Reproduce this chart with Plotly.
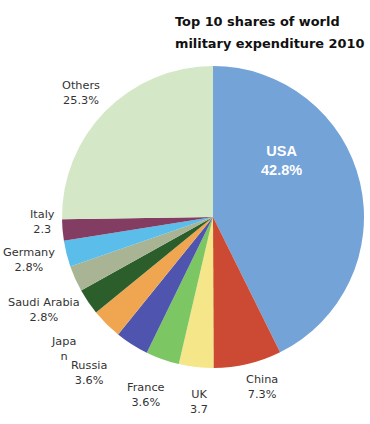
import plotly.graph_objects as go

countries = ["USA", "China", "UK", "France", "Russia", "Japan",
             "Saudi Arabia", "India", "Germany", "Italy", "Others"]
shares = [42.8, 7.3, 3.7, 3.6, 3.6, 3.3, 2.8, 2.8, 2.8, 2.3, 25.3]
colors = ["#74A3D8", "#CC4A33", "#F6E68A", "#7CC664", "#4F55AE", "#F0A651",
          "#2C5E2C", "#A9B494", "#5ABDEA", "#843D62", "#D4E8C8"]
# label text as printed in the reference (some values truncated / missing)
label_texts = ["USA<br>42.8%", "China<br>7.3%", "UK<br>3.7", "France<br>3.6%",
               "Russia<br>3.6%", "Japa<br>n", "Saudi Arabia<br>2.8%", "",
               "Germany<br>2.8%", "Italy<br>2.3", "Others<br>25.3%"]
title_lines = ["Top 10 shares of world", "military expenditure 2010"]

# label anchor positions (pixels in the 370x424 screenshot)
label_pos = [(281, 160), (262, 387), (199, 402), (146, 395), (89, 373),
             (63, 349), (44, 310), None, (29, 260), (42, 222), (81, 93)]
title_y = [21, 44]

W, H = 370, 424


def px(x):
    return x / W


def py(y):
    return 1 - y / H


fig = go.Figure(go.Pie(
    labels=countries, values=shares, sort=False, direction="clockwise",
    rotation=0, marker=dict(colors=colors, line=dict(width=0)),
    textinfo="none", hoverinfo="label+percent", showlegend=False,
    domain=dict(x=[px(62), px(364)], y=[py(368), py(66)]),
))

annotations = []
for i, (txt, pos) in enumerate(zip(label_texts, label_pos)):
    if pos is None or not txt:
        continue
    is_usa = i == 0
    annotations.append(dict(
        x=px(pos[0]), y=py(pos[1]), xref="paper", yref="paper",
        text=f"<b>{txt}</b>" if is_usa else txt, showarrow=False,
        xanchor="center", yanchor="middle", align="center",
        font=dict(family="Liberation Sans" if is_usa else "DejaVu Sans",
                  size=14.5 if is_usa else 11.3,
                  color="white" if is_usa else "#333333"),
    ))
for line, ty in zip(title_lines, title_y):
    annotations.append(dict(
        x=px(173), y=py(ty), xref="paper", yref="paper",
        text=f"<b>{line}</b>", showarrow=False,
        xanchor="left", yanchor="middle", align="left",
        font=dict(family="DejaVu Sans", size=12.9, color="#111111"),
    ))

fig.update_layout(
    width=W, height=H, margin=dict(l=0, r=0, t=0, b=0),
    paper_bgcolor="white", plot_bgcolor="white",
    annotations=annotations,
)
fig.write_html("out.html", config={"displayModeBar": False},
               post_script="document.body.style.margin='0';")
